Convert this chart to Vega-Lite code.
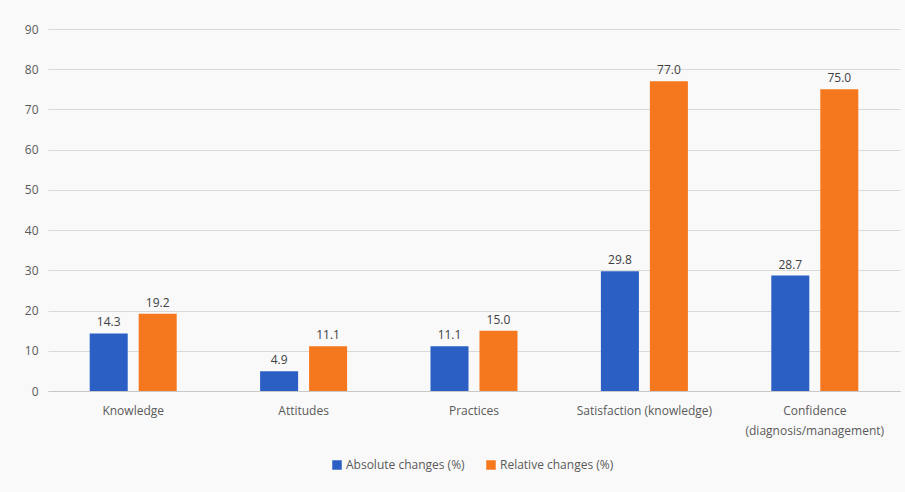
{
  "$schema": "https://vega.github.io/schema/vega-lite/v6.json",
  "width": 852,
  "height": 362,
  "autosize": {"type": "none"},
  "padding": {"left": 48, "top": 29, "right": 5, "bottom": 101},
  "background": "#f9f9f9",
  "data": {
    "values": [
      {"category": "Knowledge", "series": "Absolute changes (%)", "value": 14.3},
      {"category": "Knowledge", "series": "Relative changes (%)", "value": 19.2},
      {"category": "Attitudes", "series": "Absolute changes (%)", "value": 4.9},
      {"category": "Attitudes", "series": "Relative changes (%)", "value": 11.1},
      {"category": "Practices", "series": "Absolute changes (%)", "value": 11.1},
      {"category": "Practices", "series": "Relative changes (%)", "value": 15.0},
      {"category": "Satisfaction (knowledge)", "series": "Absolute changes (%)", "value": 29.8},
      {"category": "Satisfaction (knowledge)", "series": "Relative changes (%)", "value": 77.0},
      {"category": "Confidence (diagnosis/management)", "series": "Absolute changes (%)", "value": 28.7},
      {"category": "Confidence (diagnosis/management)", "series": "Relative changes (%)", "value": 75.0}
    ]
  },
  "encoding": {
    "x": {
      "field": "category", "type": "nominal", "sort": null,
      "scale": {"paddingInner": 0, "paddingOuter": 0},
      "axis": {
        "title": null, "labelAngle": 0, "ticks": false, "domain": true,
        "domainColor": "#c8c8c8", "labelPadding": 14,
        "labelFont": "Open Sans", "labelFontSize": 12, "labelColor": "#595959",
        "labelLineHeight": 20,
        "labelExpr": "datum.label == 'Confidence (diagnosis/management)' ? ['Confidence', '(diagnosis/management)'] : datum.label"
      }
    },
    "xOffset": {
      "field": "series", "type": "nominal",
      "scale": {"paddingInner": 0.224, "paddingOuter": 0.851}
    },
    "y": {
      "field": "value", "type": "quantitative",
      "scale": {"domain": [0, 90]},
      "axis": {
        "title": null, "values": [0,10,20,30,40,50,60,70,80,90],
        "domain": false, "ticks": false, "labelPadding": 10,
        "gridColor": "#d9d9d9", "labelFont": "Open Sans", "labelFontSize": 12,
        "labelColor": "#595959"
      }
    }
  },
  "layer": [
    {
      "mark": {"type": "bar"},
      "encoding": {
        "color": {
          "field": "series", "type": "nominal",
          "scale": {"domain": ["Absolute changes (%)", "Relative changes (%)"], "range": ["#2b5fc4", "#f5781f"]},
          "legend": {
            "title": null, "orient": "none", "direction": "horizontal",
            "legendX": 283, "legendY": 430,
            "symbolType": "square", "symbolSize": 90, "symbolStrokeWidth": 0,
            "labelFont": "Open Sans", "labelFontSize": 12, "labelColor": "#595959",
            "columnPadding": 20, "labelOffset": 3
          }
        }
      }
    },
    {
      "mark": {"type": "text", "dy": -11, "font": "Open Sans", "fontSize": 12, "color": "#404040"},
      "encoding": {
        "text": {"field": "value", "type": "quantitative", "format": ".1f"}
      }
    }
  ],
  "config": {
    "view": {"stroke": null}
  }
}
